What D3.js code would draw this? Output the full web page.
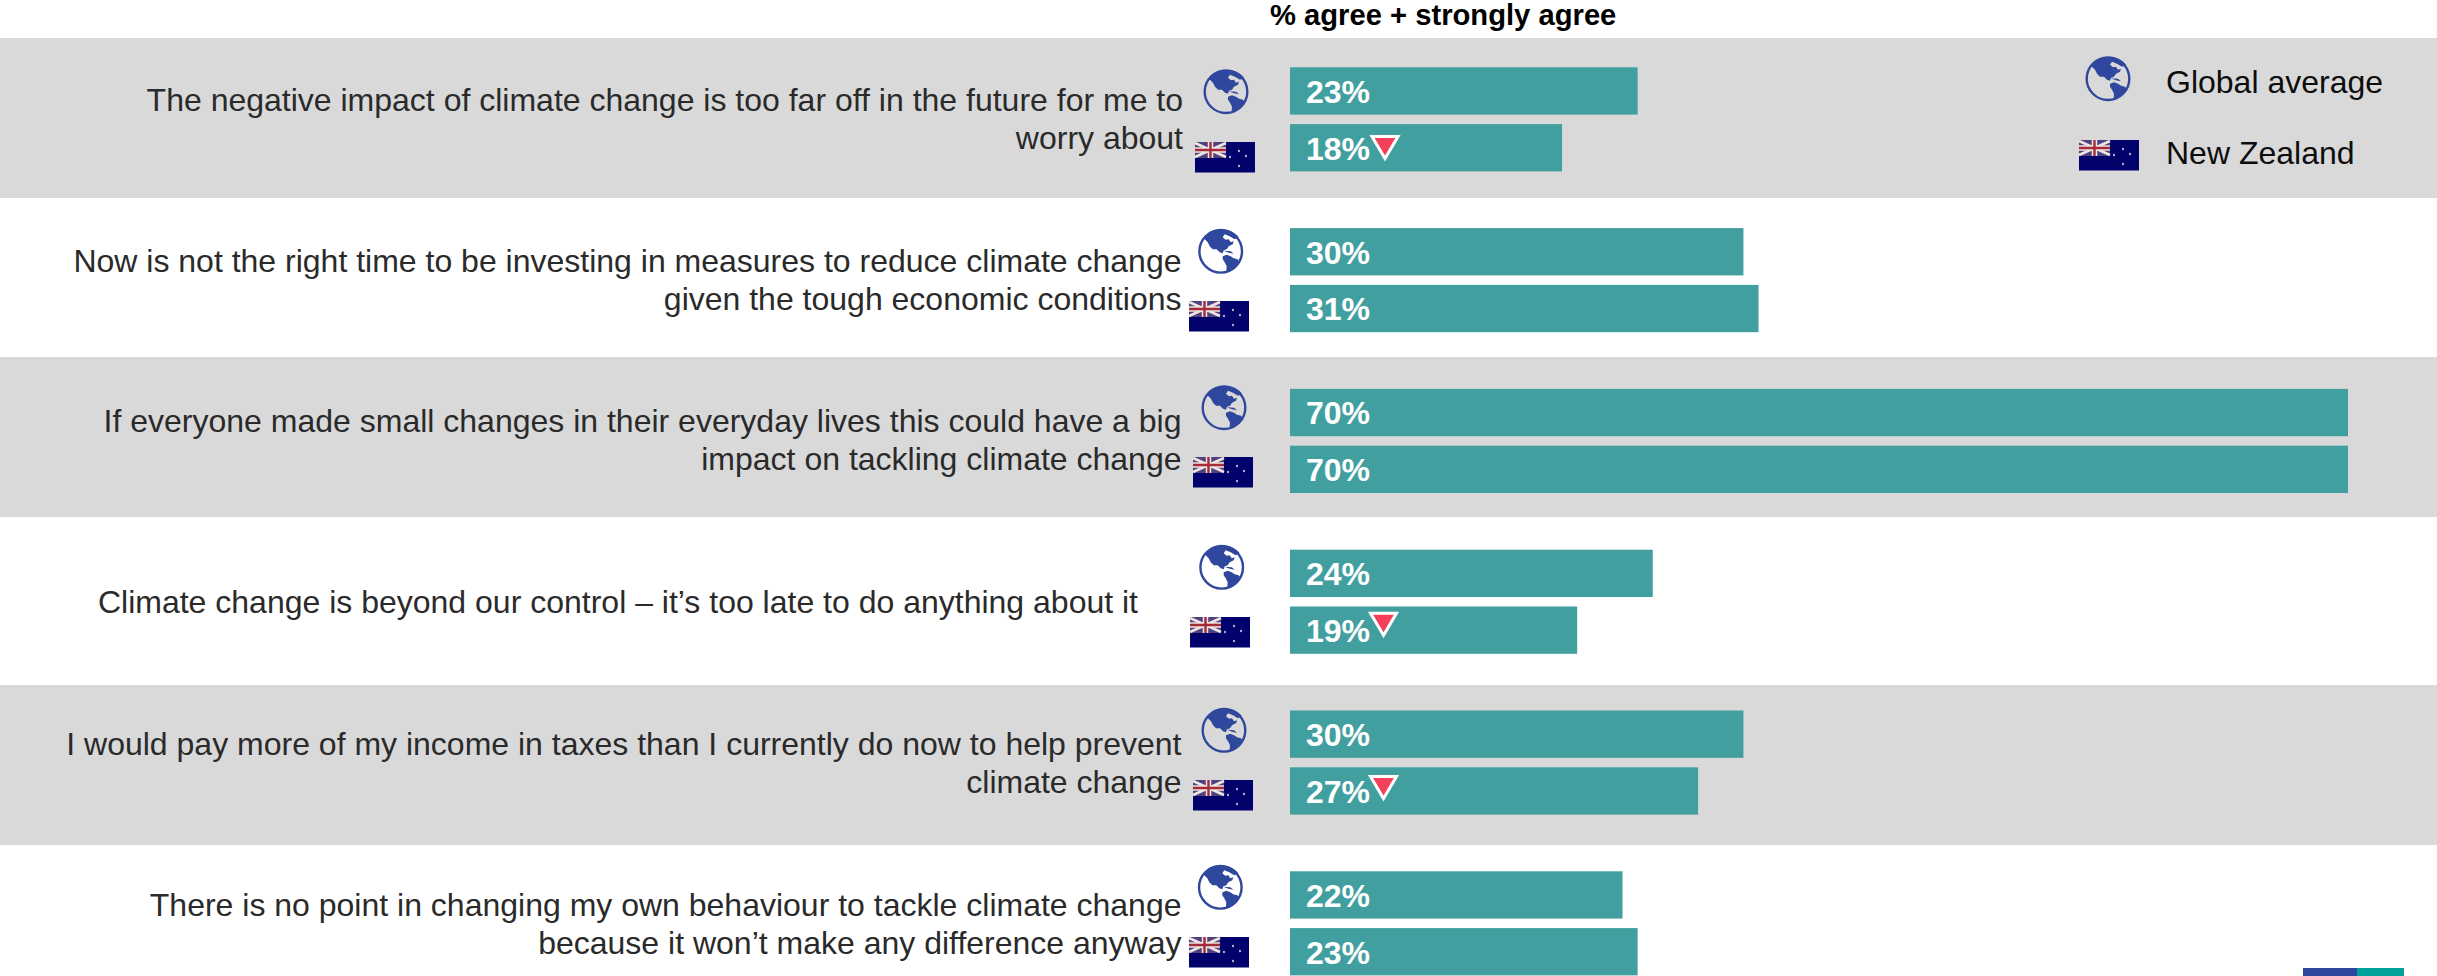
<!DOCTYPE html>
<html>
<head>
<meta charset="utf-8">
<script src="https://cdn.jsdelivr.net/npm/d3@7"></script>
<style>
html, body { margin: 0; padding: 0; background: #fff; overflow: hidden; }
text { font-family: "Liberation Sans", Arial, sans-serif; }
</style>
</head>
<body>
<div id="chart"></div>
<script>
const width = 2437;
const height = 976;

// data
const statements = [
    ['The negative impact of climate change is too far off in the future for me to', 'worry about'],
    ['Now is not the right time to be investing in measures to reduce climate change', 'given the tough economic conditions'],
    ['If everyone made small changes in their everyday lives this could have a big', 'impact on tackling climate change'],
    ['Climate change is beyond our control \u2013 it\u2019s too late to do anything about it'],
    ['I would pay more of my income in taxes than I currently do now to help prevent', 'climate change'],
    ['There is no point in changing my own behaviour to tackle climate change', 'because it won\u2019t make any difference anyway']
];
const seriesNames = ['Global average', 'New Zealand'];
const globalValues = [23, 30, 70, 24, 30, 22];
const nzValues = [18, 31, 70, 19, 27, 23];
const nzLower = [true, false, false, true, true, false];

// hand placed things in the original slide, they don't line up row to row
const globeX = [1226, 1220.7, 1224, 1221.7, 1224, 1220.3];
const globeY = [91.7, 251.3, 407.7, 567.3, 730.3, 887.3];
const flagX = [1195, 1189, 1193, 1190, 1193, 1189];
const flagY = [142, 301, 457, 617, 780, 937];
const labelRight = [1183, 1181.5, 1181.5, 1138, 1181.5, 1181.5];
const labelBase = [111, 272, 432, 613, 755, 916];
const lineGap = [37.5, 37.5, 38, 0, 37.5, 37.5];
const markerY = [135, 0, 0, 611.7, 775, 0];
const bands = [[38, 198], [357, 517], [685, 845]];

const svg = d3.select('#chart')
    .append('svg')
    .attr('width', width)
    .attr('height', height)
    .style('display', 'block');

const x = d3.scaleLinear().domain([0, 70]).range([1290, 2348]);
const rowIds = d3.range(statements.length);
const y0 = d3.scaleBand().domain(rowIds).range([67.3, 67.3 + 160.8 * 6]);
const y1 = d3.scaleBand().domain(seriesNames).range([0, 104.1]).paddingInner(0.167);

const ink = '#2f479d';

// globe icon
const defs = svg.append('defs');
const globe = defs.append('g').attr('id', 'globe');
globe.append('circle').attr('r', 21.3).attr('fill', 'none').attr('stroke', ink).attr('stroke-width', 2.4);
globe.append('path').attr('fill', ink)
    .attr('d', 'M-17,-13 C-11,-20 -3,-22 4,-21.5 C10,-21 15,-18 18,-14 L14,-12 L9,-15 L4,-17 L2,-14 L5,-11.5 L8,-12 L10,-9 L13,-10 L12,-7 L8,-5 L6,-2 L3,-1 L2,2 L-1,1 L-4,-2 L-8,-2 L-11,-5 L-13,-9 Z');
globe.append('path').attr('fill', ink)
    .attr('d', 'M2,5 L6,3.5 L10,5 L13,7 L17,8 L19,11 L15,14 L12,17 L9,20.5 L5.5,21 L6,15 L4,11 L2,8 Z');
globe.append('path').attr('fill', ink)
    .attr('d', 'M3,-0.5 L10,0 L13,2.5 L8,1.5 Z');

// flag icon
const flag = defs.append('g').attr('id', 'flag');
flag.append('rect').attr('width', 60).attr('height', 30.5).attr('fill', '#02026c');
flag.append('rect').attr('width', 31).attr('height', 16).attr('fill', '#4f4280');
flag.append('path').attr('stroke', '#efe4e0').attr('stroke-width', 2.6).attr('fill', 'none')
    .attr('d', 'M0,1 L31,15 M31,1 L0,15');
flag.append('path').attr('stroke', '#efe4e0').attr('stroke-width', 5.5).attr('fill', 'none')
    .attr('d', 'M15.5,0 V16 M0,8 H31');
flag.append('path').attr('stroke', '#a52a3a').attr('stroke-width', 2.4).attr('fill', 'none')
    .attr('d', 'M15.5,0 V16 M0,8 H31');
flag.selectAll('ellipse.star')
    .data([[35, 15], [44, 9], [51, 14], [44, 24]])
    .enter().append('ellipse')
    .attr('cx', d => d[0]).attr('cy', d => d[1])
    .attr('rx', 0.9).attr('ry', 1.2)
    .attr('fill', '#d8d4e4');

// alternating bands
svg.selectAll('rect.band')
    .data(bands)
    .enter().append('rect')
    .attr('class', 'band')
    .attr('x', 0)
    .attr('width', width)
    .attr('y', d => d[0])
    .attr('height', d => d[1] - d[0])
    .attr('fill', '#d9d9d9');

// title
svg.append('text')
    .attr('x', 1270).attr('y', 25)
    .attr('font-size', 29.2).attr('font-weight', 'bold').attr('fill', '#000')
    .text('% agree + strongly agree');

// statements
svg.selectAll('text.statement')
    .data(statements)
    .enter().append('text')
    .attr('class', 'statement')
    .attr('text-anchor', 'end')
    .attr('font-size', 32).attr('fill', '#2a2a2a')
    .each(function(lines, i) {
        d3.select(this).selectAll('tspan')
            .data(lines)
            .enter().append('tspan')
            .attr('x', labelRight[i])
            .attr('y', (_d, j) => labelBase[i] + j * lineGap[i])
            .text(d => d);
    });

// bars
const rows = rowIds.map(i => [
    { row: i, name: seriesNames[0], value: globalValues[i], lower: false },
    { row: i, name: seriesNames[1], value: nzValues[i], lower: nzLower[i] }
]).flat();

svg.selectAll('rect.bar')
    .data(rows)
    .enter().append('rect')
    .attr('class', 'bar')
    .attr('x', x(0))
    .attr('y', d => y0(d.row) + y1(d.name))
    .attr('width', d => x(d.value) - x(0))
    .attr('height', y1.bandwidth())
    .attr('fill', '#429f9f');

svg.selectAll('text.value')
    .data(rows)
    .enter().append('text')
    .attr('class', 'value')
    .attr('x', 1306)
    .attr('y', d => y0(d.row) + y1(d.name) + 35.5)
    .attr('font-size', 32).attr('font-weight', 'bold').attr('fill', '#fff')
    .text(d => d.value + '%');

// significantly lower markers
svg.selectAll('path.marker')
    .data(rows.filter(d => d.lower))
    .enter().append('path')
    .attr('class', 'marker')
    .attr('transform', d => `translate(${d.row === 0 ? 1385 : 1383.5},${markerY[d.row]})`)
    .attr('d', 'M-13,1.5 H13 L0,23.5 Z')
    .attr('fill', '#f4405a')
    .attr('stroke', '#fff')
    .attr('stroke-width', 3);

// icons beside each row
svg.selectAll('use.globe')
    .data(rowIds)
    .enter().append('use')
    .attr('href', '#globe')
    .attr('x', i => globeX[i])
    .attr('y', i => globeY[i]);

svg.selectAll('use.flag')
    .data(rowIds)
    .enter().append('use')
    .attr('href', '#flag')
    .attr('x', i => flagX[i])
    .attr('y', i => flagY[i]);

// legend
svg.append('use').attr('href', '#globe').attr('x', 2108).attr('y', 78.7);
svg.append('use').attr('href', '#flag').attr('x', 2079).attr('y', 140);
svg.selectAll('text.legend')
    .data(seriesNames)
    .enter().append('text')
    .attr('class', 'legend')
    .attr('x', 2166)
    .attr('y', (_d, i) => 92.5 + i * 71)
    .attr('font-size', 32).attr('fill', '#0d0d0d')
    .text(d => d);

// bit of the footer logo that pokes in at the bottom
svg.append('rect').attr('x', 2303).attr('y', 968).attr('width', 54).attr('height', 8).attr('fill', ink);
svg.append('rect').attr('x', 2357).attr('y', 968).attr('width', 47).attr('height', 8).attr('fill', '#00a19a');
</script>
</body>
</html>
